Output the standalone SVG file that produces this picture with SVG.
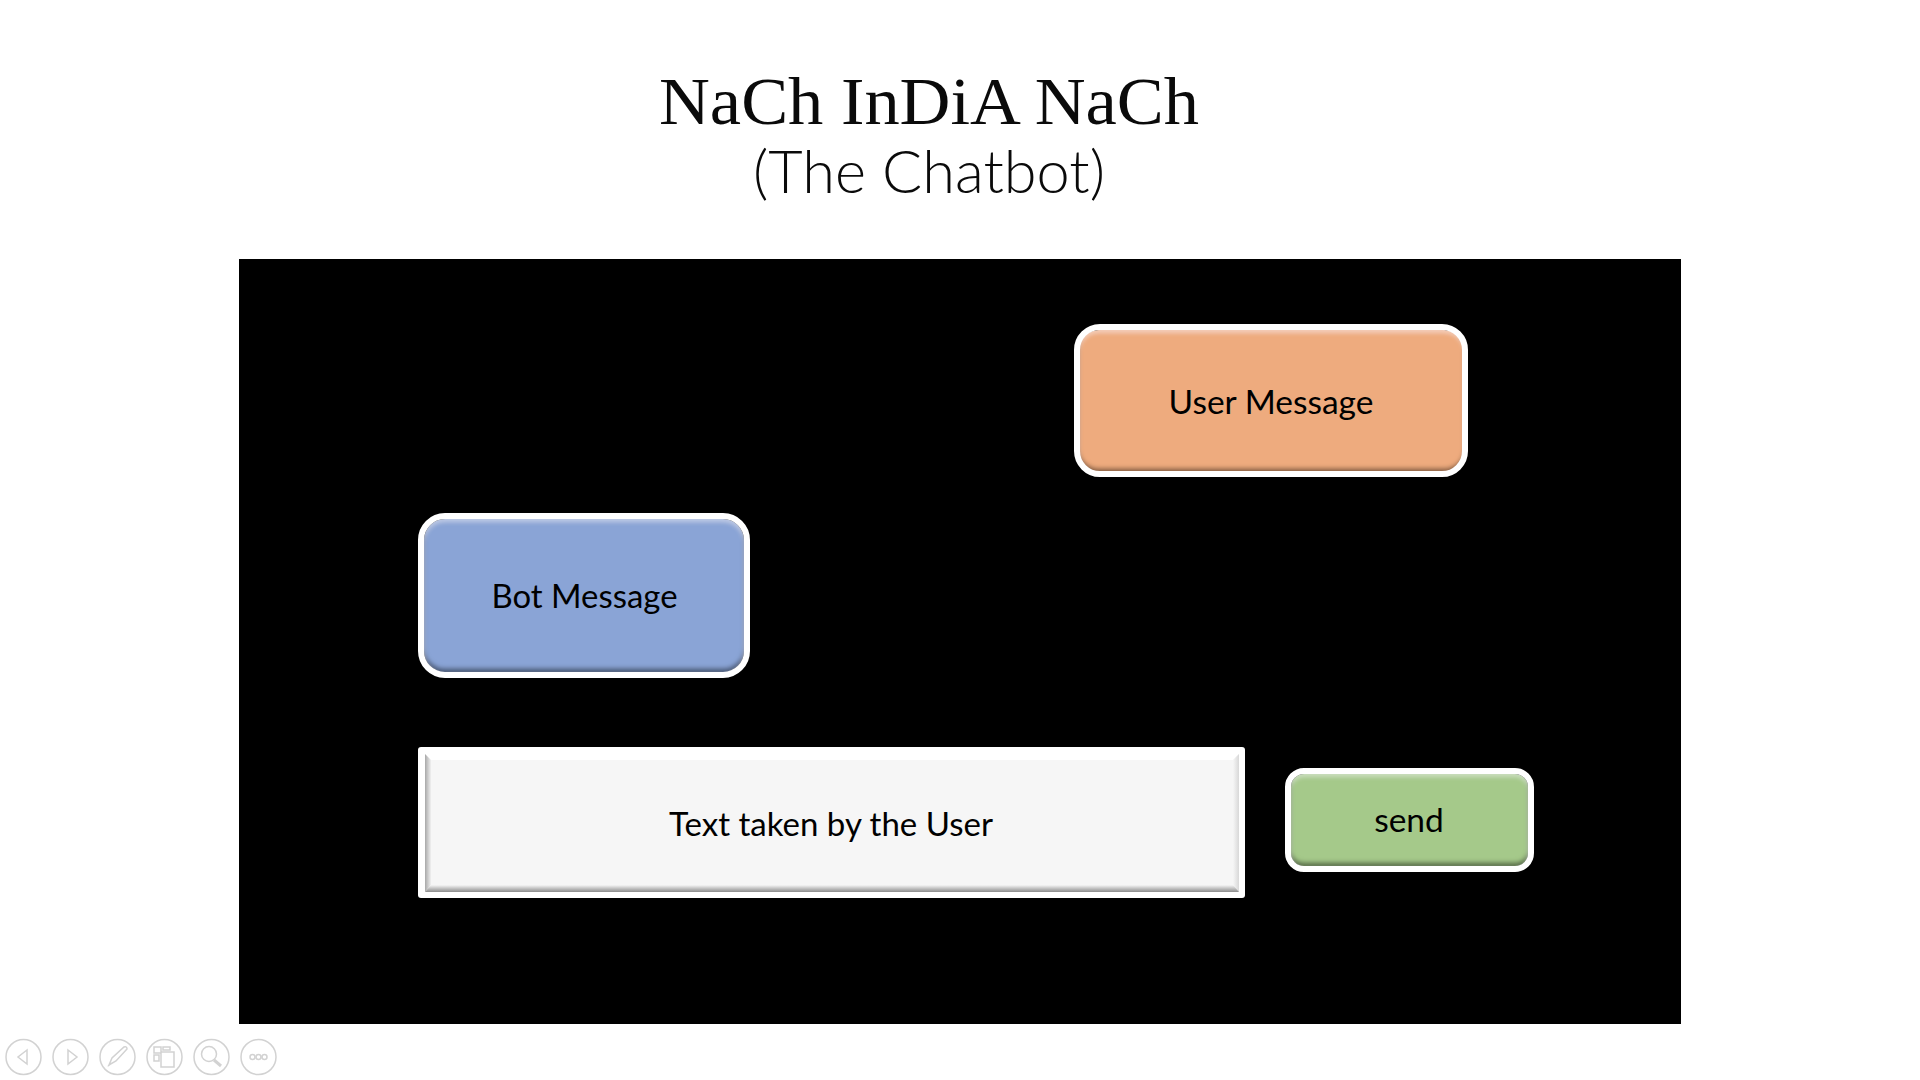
<svg xmlns="http://www.w3.org/2000/svg" width="1920" height="1080" viewBox="0 0 1920 1080">
<style>
.lbl{font-family:"Lato","Open Sans",sans-serif;font-size:33.500px;fill:#000;text-anchor:middle}
.rim{fill:none;stroke:#fff;stroke-width:6}
.nav{fill:none;stroke:#d2d2d2;stroke-width:1.500}
.face{filter:url(#bevel)}
</style>
<defs>
<filter id="bevel" x="-5%" y="-8%" width="110%" height="116%">
<feGaussianBlur in="SourceAlpha" stdDeviation="2.200" result="b"/>
<feOffset in="b" dy="-4" result="o1"/>
<feComposite in="SourceAlpha" in2="o1" operator="out" result="inner1"/>
<feFlood flood-color="#000" flood-opacity=".7"/>
<feComposite in2="inner1" operator="in" result="dark"/>
<feOffset in="b" dy="3" result="o2"/>
<feComposite in="SourceAlpha" in2="o2" operator="out" result="inner2"/>
<feFlood flood-color="#fff" flood-opacity=".35"/>
<feComposite in2="inner2" operator="in" result="light"/>
<feMerge><feMergeNode in="SourceGraphic"/><feMergeNode in="dark"/><feMergeNode in="light"/></feMerge>
</filter>
<linearGradient id="tb" x1="0" y1="0" x2="0" y2="1"><stop offset="0" stop-color="#f6f6f6"/><stop offset="1" stop-color="#8c8c8c"/></linearGradient>
<linearGradient id="tl" x1="0" y1="0" x2="1" y2="0"><stop offset="0" stop-color="#a8a8a8"/><stop offset="1" stop-color="#f0f0f0"/></linearGradient>
<linearGradient id="tr" x1="0" y1="0" x2="1" y2="0"><stop offset="0" stop-color="#f6f6f6"/><stop offset="1" stop-color="#d8d8d8"/></linearGradient>
</defs>
<rect width="1920" height="1080" fill="#fff"/>
<g id="title">
<text x="929" y="124" font-family="'Liberation Serif',serif" font-size="68" text-anchor="middle" fill="#0a0a0a" textLength="540" lengthAdjust="spacingAndGlyphs">NaCh InDiA NaCh</text>
<text x="929" y="193" font-family="'Lato','Open Sans',sans-serif" font-weight="300" font-size="59" text-anchor="middle" fill="#0a0a0a" textLength="352" lengthAdjust="spacingAndGlyphs">(The Chatbot)</text>
</g>
<rect id="panel" x="239" y="259" width="1442" height="765" fill="#000"/>
<g id="user-message">
<rect class="face" x="1079" y="330" width="385" height="142" rx="20" fill="#eeab7e"/>
<rect class="rim" x="1077" y="327" width="388" height="147" rx="23"/>
<text class="lbl" x="1271" y="414">User Message</text>
</g>
<g id="bot-message">
<rect class="face" x="424" y="519" width="320" height="153" rx="21" fill="#8aa4d6"/>
<rect class="rim" x="421" y="516" width="326" height="159" rx="24"/>
<text class="lbl" x="584.500" y="608" textLength="186" lengthAdjust="spacingAndGlyphs">Bot Message</text>
</g>
<g id="text-input">
<rect x="418" y="747" width="827" height="151" rx="3" fill="#fff"/>
<rect x="425" y="754" width="814" height="138" fill="#f6f6f6"/>
<polygon points="425,754 1239,754 1233,760 431,760" fill="#fff"/>
<polygon points="425,754 431,760 431,885 425,892" fill="url(#tl)"/>
<polygon points="1239,754 1233,760 1233,885 1239,892" fill="url(#tr)"/>
<polygon points="425,892 431,885 1233,885 1239,892" fill="url(#tb)"/>
<text class="lbl" x="831" y="836" textLength="324" lengthAdjust="spacingAndGlyphs">Text taken by the User</text>
</g>
<g id="send-button">
<rect class="face" x="1291" y="774" width="237" height="92" rx="13" fill="#a5c98a"/>
<rect class="rim" x="1288" y="771" width="243" height="98" rx="16"/>
<text class="lbl" x="1409" y="832">send</text>
</g>
<g id="slide-controls" class="nav">
<circle cx="23.500" cy="1057" r="17.500"/>
<path d="M27 1050 L18 1057 L27 1064 Z"/>
<circle cx="70.500" cy="1057" r="17.500"/>
<path d="M68 1050 L77 1057 L68 1064 Z"/>
<circle cx="117.500" cy="1057" r="17.500"/>
<path d="M109 1065 L112 1058 L124 1047 Q127 1046 127 1049 L116 1061 Z M108 1066 L112 1063"/>
<circle cx="164.500" cy="1057" r="17.500"/>
<path d="M154 1047 h7 v6 h-7 z M163 1047 h7 v3 h-7 z M154 1055 h5 v6 h-5 z M161 1052 h13 v15 h-13 z"/>
<circle cx="211.500" cy="1057" r="17.500"/>
<circle cx="209" cy="1054" r="7.500"/>
<path d="M214 1060 L221 1066" stroke-width="3"/>
<circle cx="258.500" cy="1057" r="17.500"/>
<circle cx="252.500" cy="1057" r="2.500"/><circle cx="258.500" cy="1057" r="2.500"/><circle cx="264.500" cy="1057" r="2.500"/>
</g>
</svg>
